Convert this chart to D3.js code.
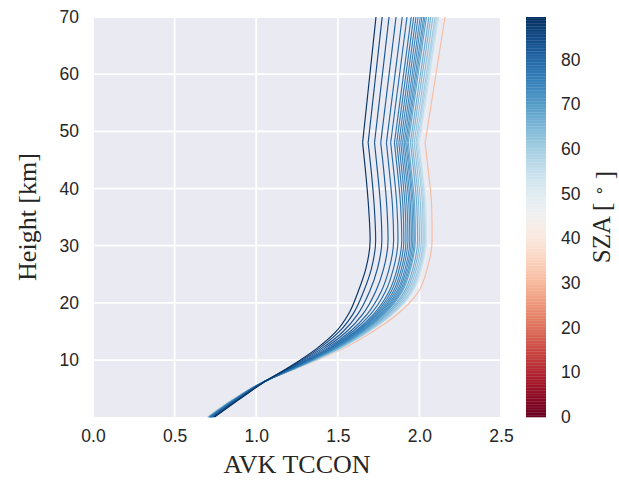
<!DOCTYPE html>
<html><head><meta charset="utf-8">
<script src="https://cdn.jsdelivr.net/npm/d3@7"></script>
<style>body{margin:0;background:#fff}</style>
</head><body>
<svg id="chart" width="619" height="480"></svg>
<script>
// ---- data ----
const heights = [0.04, 3, 6, 9, 12, 15, 18, 22, 26, 31, 37, 43, 48, 70];
const kinkIndex = 12; // profile has a sharp corner at 48 km
const sza = [89.2, 85.5, 83.5, 82, 80.5, 79, 77.5, 76.5, 75.5, 74.5, 73.5, 72.5, 71.5, 70.5, 69, 67, 65, 63, 61, 58.5, 56, 52, 47, 31];
const avk = [
  [0.745, 0.890, 1.040, 1.215, 1.370, 1.490, 1.565, 1.625, 1.672, 1.698, 1.688, 1.670, 1.652, 1.734],
  [0.741, 0.886, 1.039, 1.222, 1.384, 1.510, 1.592, 1.658, 1.706, 1.732, 1.723, 1.705, 1.686, 1.772],
  [0.736, 0.882, 1.038, 1.229, 1.400, 1.533, 1.622, 1.695, 1.743, 1.770, 1.762, 1.743, 1.725, 1.814],
  [0.732, 0.878, 1.037, 1.237, 1.416, 1.555, 1.652, 1.732, 1.781, 1.808, 1.800, 1.782, 1.763, 1.857],
  [0.728, 0.875, 1.036, 1.244, 1.431, 1.576, 1.679, 1.766, 1.815, 1.842, 1.835, 1.816, 1.798, 1.895],
  [0.725, 0.872, 1.036, 1.249, 1.442, 1.591, 1.700, 1.792, 1.841, 1.869, 1.862, 1.843, 1.824, 1.924],
  [0.722, 0.870, 1.035, 1.253, 1.452, 1.605, 1.718, 1.814, 1.864, 1.892, 1.885, 1.866, 1.847, 1.950],
  [0.720, 0.868, 1.035, 1.256, 1.457, 1.613, 1.729, 1.827, 1.877, 1.905, 1.899, 1.880, 1.861, 1.965],
  [0.719, 0.867, 1.034, 1.259, 1.463, 1.621, 1.739, 1.840, 1.890, 1.918, 1.912, 1.893, 1.874, 1.979],
  [0.718, 0.866, 1.034, 1.261, 1.468, 1.627, 1.748, 1.851, 1.901, 1.930, 1.924, 1.905, 1.886, 1.992],
  [0.716, 0.864, 1.034, 1.263, 1.472, 1.634, 1.757, 1.862, 1.913, 1.941, 1.936, 1.916, 1.897, 2.005],
  [0.715, 0.863, 1.033, 1.265, 1.476, 1.640, 1.765, 1.871, 1.922, 1.951, 1.945, 1.926, 1.907, 2.015],
  [0.714, 0.862, 1.033, 1.267, 1.480, 1.645, 1.772, 1.880, 1.931, 1.960, 1.955, 1.936, 1.916, 2.026],
  [0.713, 0.862, 1.033, 1.268, 1.484, 1.650, 1.778, 1.888, 1.939, 1.968, 1.963, 1.943, 1.924, 2.034],
  [0.712, 0.861, 1.033, 1.270, 1.487, 1.654, 1.784, 1.895, 1.946, 1.975, 1.971, 1.951, 1.932, 2.043],
  [0.711, 0.859, 1.032, 1.272, 1.492, 1.662, 1.795, 1.908, 1.960, 1.989, 1.984, 1.965, 1.945, 2.058],
  [0.709, 0.858, 1.032, 1.275, 1.497, 1.669, 1.804, 1.919, 1.971, 2.000, 1.996, 1.976, 1.956, 2.070],
  [0.708, 0.857, 1.032, 1.277, 1.502, 1.676, 1.813, 1.930, 1.982, 2.012, 2.007, 1.988, 1.968, 2.083],
  [0.707, 0.856, 1.031, 1.279, 1.507, 1.682, 1.822, 1.941, 1.993, 2.023, 2.019, 1.999, 1.979, 2.096],
  [0.706, 0.855, 1.031, 1.281, 1.510, 1.687, 1.828, 1.949, 2.001, 2.031, 2.027, 2.007, 1.987, 2.104],
  [0.705, 0.854, 1.031, 1.282, 1.513, 1.691, 1.834, 1.956, 2.009, 2.038, 2.034, 2.015, 1.995, 2.113],
  [0.704, 0.854, 1.031, 1.283, 1.516, 1.695, 1.838, 1.962, 2.014, 2.044, 2.040, 2.020, 2.001, 2.119],
  [0.703, 0.853, 1.031, 1.285, 1.519, 1.699, 1.844, 1.969, 2.022, 2.051, 2.048, 2.028, 2.008, 2.127],
  [0.700, 0.850, 1.030, 1.290, 1.530, 1.715, 1.865, 1.995, 2.048, 2.078, 2.075, 2.055, 2.035, 2.157]
];
const xTicks = [0, 0.5, 1.0, 1.5, 2.0, 2.5];
const yTicks = [10, 20, 30, 40, 50, 60, 70];
const cbTicks = [0, 10, 20, 30, 40, 50, 60, 70, 80];
const szaMin = 0, szaMax = 89.5;

// ---- layout ----
const svg = d3.select("#chart");
const plot = {left: 93, right: 501, top: 17, bottom: 417};
const cb = {left: 526, right: 546, top: 17, bottom: 417};
const tickFont = "'Liberation Sans', Arial, sans-serif";
const labelFont = "'Liberation Serif', 'Times New Roman', serif";
const textColor = "#262626";

const x = d3.scaleLinear().domain([0, 2.5]).range([plot.left, plot.right]);
const y = d3.scaleLinear().domain([0.04, 70]).range([plot.bottom, plot.top]);
const color = d3.scaleSequential(d3.interpolateRdBu).domain([szaMin, szaMax]);

// background
svg.append("rect").attr("x", plot.left).attr("y", plot.top)
  .attr("width", plot.right - plot.left).attr("height", plot.bottom - plot.top)
  .attr("fill", "#eaeaf2");

// grid
const grid = svg.append("g").attr("stroke", "#ffffff").attr("stroke-width", 1.8);
xTicks.forEach(t => grid.append("line").attr("x1", x(t)).attr("x2", x(t))
  .attr("y1", plot.top).attr("y2", plot.bottom));
yTicks.forEach(t => grid.append("line").attr("y1", y(t)).attr("y2", y(t))
  .attr("x1", plot.left).attr("x2", plot.right));

// axes (tick labels only, seaborn style)
const xAxis = d3.axisBottom(x).tickValues(xTicks).tickFormat(d3.format(".1f")).tickSize(0).tickPadding(13);
const gx = svg.append("g").attr("transform", `translate(0,${plot.bottom})`).call(xAxis);
const yAxis = d3.axisLeft(y).tickValues(yTicks).tickFormat(d3.format("d")).tickSize(0).tickPadding(14);
const gy = svg.append("g").attr("transform", `translate(${plot.left},0)`).call(yAxis);
[gx, gy].forEach(g => {
  g.select(".domain").remove();
  g.selectAll("text").attr("font-family", tickFont).attr("font-size", "17.5px").attr("fill", textColor);
});

// lines
const lower = d3.line().x(d => x(d[0])).y(d => y(d[1])).curve(d3.curveMonotoneY);
const upper = d3.line().x(d => x(d[0])).y(d => y(d[1]));
const order = d3.range(sza.length).sort((a, b) => sza[a] - sza[b]);
const lg = svg.append("g").attr("fill", "none").attr("stroke-width", 1.15);
order.forEach(i => {
  const pts = heights.map((h, k) => [avk[i][k], h]);
  const low = pts.slice(0, kinkIndex + 1).reverse();
  const up = pts.slice(kinkIndex);
  lg.append("path").attr("d", lower(low)).attr("stroke", color(sza[i]));
  lg.append("path").attr("d", upper(up)).attr("stroke", color(sza[i]));
});

// axis labels
svg.append("text").attr("x", (plot.left + plot.right) / 2).attr("y", 473)
  .attr("text-anchor", "middle").attr("font-family", labelFont).attr("font-size", "26px")
  .attr("fill", textColor).text("AVK TCCON");
svg.append("text").attr("transform", `translate(36,${(plot.top + plot.bottom) / 2}) rotate(-90)`)
  .attr("text-anchor", "middle").attr("font-family", labelFont).attr("font-size", "26px")
  .attr("fill", textColor).text("Height [km]");

// colorbar
const cy = d3.scaleLinear().domain([szaMin, szaMax]).range([cb.bottom, cb.top]);
const nSteps = 256;
const cbg = svg.append("g");
d3.range(nSteps).forEach(i => {
  const v0 = szaMin + (szaMax - szaMin) * i / nSteps;
  const v1 = szaMin + (szaMax - szaMin) * (i + 1) / nSteps;
  cbg.append("rect").attr("x", cb.left).attr("width", cb.right - cb.left)
    .attr("y", cy(v1)).attr("height", cy(v0) - cy(v1) + 0.3)
    .attr("fill", color((v0 + v1) / 2));
});
const cbAxis = d3.axisRight(cy).tickValues(cbTicks).tickFormat(d3.format("d")).tickSize(0).tickPadding(15);
const gc = svg.append("g").attr("transform", `translate(${cb.right},0)`).call(cbAxis);
gc.select(".domain").remove();
gc.selectAll("text").attr("font-family", tickFont).attr("font-size", "17.5px").attr("fill", textColor);

const cbl = svg.append("text").attr("transform", `translate(610,${(cb.top + cb.bottom) / 2}) rotate(-90)`)
  .attr("text-anchor", "middle").attr("font-family", labelFont).attr("font-size", "25px")
  .attr("fill", textColor);
cbl.append("tspan").text("SZA [ ");
cbl.append("tspan").attr("dy", "-0.35em").attr("font-size", "17px").text("∘");
cbl.append("tspan").attr("dy", "0.35em").text(" ]");
</script>
</body></html>
